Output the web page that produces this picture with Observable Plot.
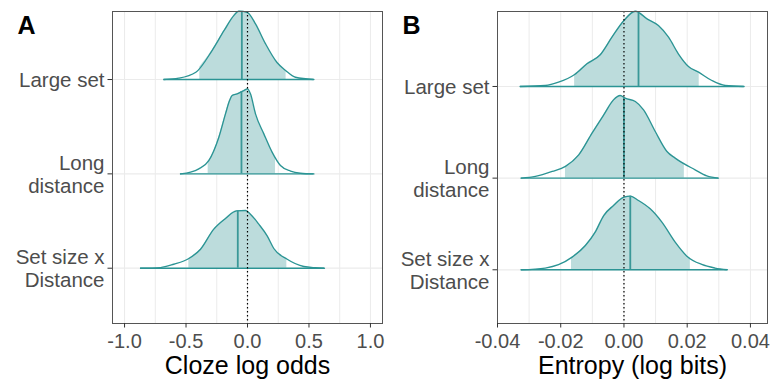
<!DOCTYPE html>
<html><head><meta charset="utf-8">
<script src="https://cdn.jsdelivr.net/npm/d3@7"></script>
<script src="https://cdn.jsdelivr.net/npm/@observablehq/plot@0.6"></script>
<style>
body{margin:0;background:#fff;}
#wrap{display:flex;width:770px;height:379px;overflow:hidden;}
</style></head><body><div id="wrap"></div>
<script>
// ---------- shared ----------
const categories = ["Large set", "Long distance", "Set size x Distance"];
const categoryLabels = ["Large set", "Long\ndistance", "Set size x\nDistance"];
const categoryRows = [3, 2, 1];

// ---------- Panel A : Cloze log odds ----------
const clozeLargeX = [-0.68, -0.56, -0.42, -0.287, -0.19, -0.11, -0.07, 0, 0.065, 0.146, 0.24, 0.31, 0.39, 0.54];
const clozeLargeH = [0, 0.014, 0.077, 0.31, 0.52, 0.68, 0.725, 0.71, 0.59, 0.38, 0.18, 0.095, 0.024, 0];
const clozeLongX = [-0.545, -0.463, -0.396, -0.315, -0.233, -0.179, -0.146, -0.125, -0.084, -0.03, 0, 0.024, 0.065, 0.133, 0.2, 0.268, 0.35, 0.43, 0.54];
const clozeLongH = [0, 0.018, 0.053, 0.141, 0.389, 0.636, 0.777, 0.83, 0.848, 0.883, 0.901, 0.848, 0.636, 0.424, 0.23, 0.088, 0.029, 0.007, 0];
const clozeInterX = [-0.87, -0.707, -0.6, -0.477, -0.382, -0.274, -0.179, -0.089, -0.016, 0.024, 0.092, 0.16, 0.214, 0.323, 0.458, 0.553, 0.626];
const clozeInterH = [0, 0.007, 0.042, 0.103, 0.201, 0.414, 0.527, 0.608, 0.612, 0.573, 0.467, 0.343, 0.209, 0.095, 0.018, 0.005, 0];
const clozeLow = [-0.388, -0.32, -0.477];
const clozeMedian = [-0.046, -0.049, -0.079];
const clozeHigh = [0.314, 0.228, 0.32];
const clozeTicks = [-1, -0.5, 0, 0.5, 1];
const clozeGrid = [-1, -0.75, -0.5, -0.25, 0, 0.25, 0.5, 0.75, 1];

// ---------- Panel B : Entropy (log bits) ----------
const entLargeX = [-0.0328, -0.0249, -0.0207, -0.0156, -0.0117, -0.0075, -0.0038, 0, 0.0036, 0.0073, 0.0109, 0.0141, 0.0172, 0.0204, 0.0236, 0.0278, 0.032, 0.038];
const entLargeH = [0, 0.011, 0.047, 0.131, 0.248, 0.346, 0.538, 0.72, 0.821, 0.738, 0.665, 0.538, 0.357, 0.218, 0.156, 0.065, 0.011, 0];
const entLongX = [-0.0325, -0.028, -0.0227, -0.0185, -0.0143, -0.0101, -0.0064, -0.0033, -0.0012, 0.0004, 0.0036, 0.0062, 0.0099, 0.0136, 0.0162, 0.0225, 0.0262, 0.0299];
const entLongH = [0, 0.019, 0.073, 0.128, 0.254, 0.491, 0.69, 0.854, 0.902, 0.872, 0.836, 0.745, 0.509, 0.291, 0.218, 0.091, 0.025, 0];
const entInterX = [-0.0325, -0.0249, -0.0207, -0.0164, -0.0122, -0.0091, -0.0064, -0.0033, 0, 0.002, 0.0046, 0.0083, 0.012, 0.0162, 0.0199, 0.0246, 0.0288, 0.0327];
const entInterH = [0, 0.019, 0.055, 0.138, 0.265, 0.411, 0.592, 0.701, 0.793, 0.803, 0.756, 0.665, 0.52, 0.302, 0.149, 0.058, 0.019, 0];
const entLow = [-0.0156, -0.0185, -0.0166];
const entMedian = [0.0046, 0.0, 0.002];
const entHigh = [0.0238, 0.0191, 0.021];
const entTicks = [-0.04, -0.02, 0, 0.02, 0.04];
const entGrid = [-0.04, -0.03, -0.02, -0.01, 0, 0.01, 0.02, 0.03, 0.04];

// ---------- drawing ----------
const FONT = "'Liberation Sans', Arial, sans-serif";
const LINE = "#2b9494";
const FILL = "#bcdcdc";

function interp(xs, hs, x) {
  for (let i = 0; i < xs.length - 1; i++) {
    if (x >= xs[i] && x <= xs[i + 1]) {
      const t = (x - xs[i]) / (xs[i + 1] - xs[i]);
      return hs[i] + t * (hs[i + 1] - hs[i]);
    }
  }
  return 0;
}

function panel({letter, title, xsList, hsList, lows, meds, highs, ticks, grid, xDomain, yDomain, fmt}) {
  const series = categories.map((c, i) => ({
    cat: c, row: categoryRows[i], xs: xsList[i], hs: hsList[i],
    lo: lows[i], med: meds[i], hi: highs[i],
    min: xsList[i][0], max: xsList[i][xsList[i].length - 1],
    medTop: categoryRows[i] + interp(xsList[i], hsList[i], meds[i])
  }));
  const lineData = series.flatMap(s => s.xs.map((x, j) => ({cat: s.cat, x, base: s.row, y: s.row + s.hs[j]})));
  const fillData = series.flatMap(s => {
    const pts = [{cat: s.cat, x: s.lo, base: s.row, y: s.row + interp(s.xs, s.hs, s.lo)}];
    s.xs.forEach((x, j) => { if (x > s.lo && x < s.hi) pts.push({cat: s.cat, x, base: s.row, y: s.row + s.hs[j]}); });
    pts.push({cat: s.cat, x: s.hi, base: s.row, y: s.row + interp(s.xs, s.hs, s.hi)});
    return pts;
  });
  return Plot.plot({
    width: 385, height: 379,
    marginLeft: 112, marginRight: 3, marginTop: 11, marginBottom: 56,
    style: {fontFamily: FONT, background: "#fff", overflow: "visible"},
    x: {domain: xDomain, axis: null},
    y: {domain: yDomain, axis: null},
    marks: [
      Plot.gridX({ticks: grid, stroke: "#ebebeb", strokeOpacity: 1, strokeWidth: 1}),
      Plot.gridY({ticks: [1, 2, 3], stroke: "#ebebeb", strokeOpacity: 1, strokeWidth: 1.2}),
      Plot.area(fillData, {x1: "x", y1: "base", y2: "y", z: "cat", fill: FILL, curve: "monotone-x"}),
      Plot.line(lineData, {x: "x", y: "y", z: "cat", stroke: LINE, strokeWidth: 1.35, curve: "monotone-x"}),
      Plot.ruleY(series, {y: "row", x1: "min", x2: "max", stroke: LINE, strokeWidth: 1.4}),
      Plot.ruleX(series, {x: "med", y1: "row", y2: "medTop", stroke: "#3a9898", strokeWidth: 1.8}),
      Plot.ruleX([0], {stroke: "#000", strokeWidth: 1.2, strokeDasharray: "1.4,2.6"}),
      Plot.frame({stroke: "#555", strokeWidth: 1}),
      Plot.axisX({ticks, tickFormat: fmt, tickSize: 4.5, tickPadding: 6, fontSize: 20, color: "#4d4d4d", stroke: "#333", label: null}),
      Plot.axisY({ticks: [1, 2, 3], tickFormat: d => categoryLabels[categoryRows.indexOf(d)], tickSize: 4.5, tickPadding: 3.5, fontSize: 20.5, lineHeight: 1.12, color: "#4d4d4d", stroke: "#333", label: null}),
      Plot.text([title], {frameAnchor: "bottom", lineAnchor: "middle", dy: 42, fontSize: 25, fill: "#000"}),
      Plot.text([letter], {frameAnchor: "top-left", lineAnchor: "middle", dx: -95, dy: 14.3, textAnchor: "start", fontSize: 25, fontWeight: "bold", fill: "#000"})
    ]
  });
}

const wrap = document.getElementById("wrap");
wrap.append(panel({
  letter: "A", title: "Cloze log odds",
  xsList: [clozeLargeX, clozeLongX, clozeInterX], hsList: [clozeLargeH, clozeLongH, clozeInterH],
  lows: clozeLow, meds: clozeMedian, highs: clozeHigh,
  ticks: clozeTicks, grid: clozeGrid, xDomain: [-1.098, 1.098], yDomain: [0.414, 3.721],
  fmt: d => d.toFixed(1)
}));
wrap.append(panel({
  letter: "B", title: "Entropy (log bits)",
  xsList: [entLargeX, entLongX, entInterX], hsList: [entLargeH, entLongH, entInterH],
  lows: entLow, meds: entMedian, highs: entHigh,
  ticks: entTicks, grid: entGrid, xDomain: [-0.04, 0.0454], yDomain: [0.414, 3.818],
  fmt: d => d.toFixed(2)
}));
</script></body></html>
